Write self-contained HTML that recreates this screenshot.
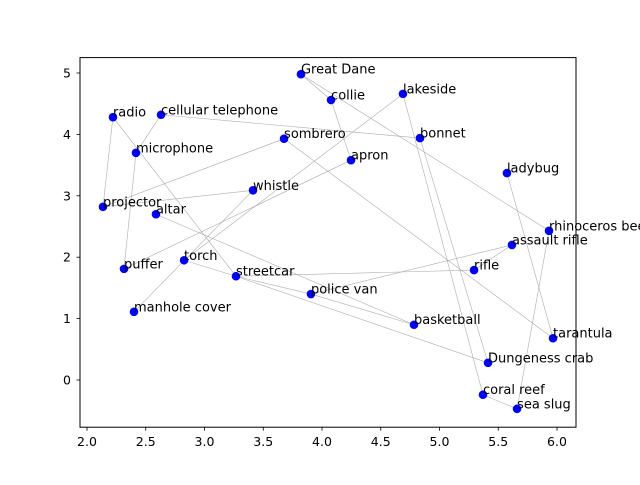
<!DOCTYPE html>
<html><head><meta charset="utf-8"><style>
body{margin:0;background:#fff}
text{font-family:"DejaVu Sans","Liberation Sans",sans-serif}
</style></head><body>
<svg id="chart" width="640" height="480" xmlns="http://www.w3.org/2000/svg">
<rect width="640" height="480" fill="#fff"/>
<g id="edges"></g>
<g id="points"></g>
<g id="labels"></g>
<rect x="80" y="57.6" width="496" height="369.6" fill="none" stroke="#000" stroke-width="1"/>
<g id="xticks"></g>
<g id="yticks"></g>
</svg>
<script>
const names = ["Great Dane","collie","lakeside","radio","cellular telephone","microphone","sombrero","bonnet","apron","ladybug","whistle","projector","altar","rhinoceros beetle","assault rifle","puffer","torch","rifle","streetcar","police van","manhole cover","basketball","tarantula","Dungeness crab","coral reef","sea slug"];
const xs = [3.821,4.077,4.689,2.221,2.630,2.417,3.677,4.834,4.247,5.574,3.413,2.136,2.587,5.932,5.617,2.315,2.826,5.294,3.268,3.906,2.400,4.783,5.966,5.413,5.370,5.660];
const ys = [4.98,4.56,4.66,4.28,4.32,3.70,3.93,3.94,3.58,3.37,3.09,2.82,2.70,2.43,2.20,1.81,1.95,1.79,1.69,1.40,1.11,0.90,0.68,0.28,-0.24,-0.47];
const edgeFrom = ["radio","radio","cellular telephone","cellular telephone","microphone","projector","sombrero","altar","puffer","torch","torch","manhole cover","streetcar","streetcar","streetcar","police van","police van","assault rifle","Great Dane","Great Dane","collie","sombrero","lakeside","bonnet","ladybug","rhinoceros beetle","coral reef"];
const edgeTo = ["projector","streetcar","microphone","bonnet","puffer","whistle","projector","basketball","apron","streetcar","lakeside","whistle","rifle","Dungeness crab","police van","basketball","assault rifle","rifle","collie","rhinoceros beetle","apron","tarantula","coral reef","Dungeness crab","tarantula","sea slug","sea slug"];
const xTicks = [2.0,2.5,3.0,3.5,4.0,4.5,5.0,5.5,6.0];
const yTicks = [0,1,2,3,4,5];

const sx = v => 87 + (v - 2) * 117.5;
const sy = v => 380 - v * 61.4;
const NS = "http://www.w3.org/2000/svg";
function mk(tag, attrs, parent){const e=document.createElementNS(NS,tag);for(const k in attrs)e.setAttribute(k,attrs[k]);parent.appendChild(e);return e;}
const gE=document.getElementById('edges'),gP=document.getElementById('points'),gL=document.getElementById('labels');
edgeFrom.forEach((a,i)=>{
  const p=names.indexOf(a),q=names.indexOf(edgeTo[i]);
  const l=mk('line',{x1:sx(xs[p]),y1:sy(ys[p]),x2:sx(xs[q]),y2:sy(ys[q]),stroke:'#999','stroke-width':0.6,'stroke-opacity':0.8},gE);
  
  
});
names.forEach((n,i)=>{
  const c=mk('circle',{cx:sx(xs[i]),cy:sy(ys[i]),r:4.3,fill:'#0000ff'},gP);
  
  
  const t=mk('text',{x:sx(xs[i]),y:sy(ys[i])-0.5,'font-size':13,fill:'#000'},gL);
  t.textContent=n;
  
  
});
const gX=document.getElementById('xticks'),gY=document.getElementById('yticks');
xTicks.forEach(v=>{
  const x=sx(v);
  const l=mk('line',{x1:x,y1:427.2,x2:x,y2:430.7,stroke:'#000','stroke-width':0.8},gX);
  
  
  const t=mk('text',{x:x,y:446,'font-size':12.5,'text-anchor':'middle'},gX);
  t.textContent=v.toFixed(1);
  
  
});
yTicks.forEach(v=>{
  const y=sy(v);
  const l=mk('line',{x1:76.5,y1:y,x2:80,y2:y,stroke:'#000','stroke-width':0.8},gY);
  
  
  const t=mk('text',{x:71,y:y+4.5,'font-size':12.5,'text-anchor':'end'},gY);
  t.textContent=String(v);
  
  
});
</script>
</body></html>
